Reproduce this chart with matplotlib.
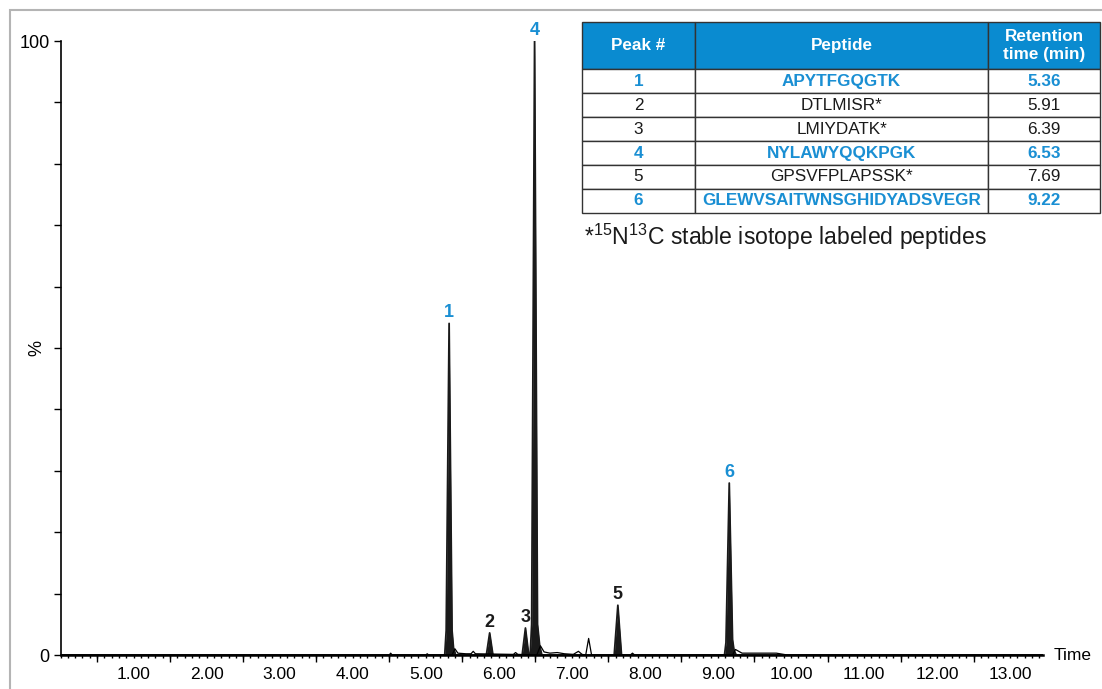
import matplotlib
matplotlib.use("Agg")
import numpy as np
import matplotlib.pyplot as plt
from matplotlib.patches import Rectangle
from matplotlib.ticker import FixedLocator, MultipleLocator

plt.rcParams["font.family"] = ["Liberation Sans", "DejaVu Sans"]
plt.rcParams["mathtext.fontset"] = "custom"
plt.rcParams["mathtext.rm"] = "Liberation Sans"

BLUE = "#0a8bd0"
TEXT_BLUE = "#1a8fd3"

# filled chromatogram trace (time in min, intensity in %)
fill_time = [0.0, 5.26, 5.28, 5.32, 5.36, 5.38, 5.41,
             5.83, 5.875, 5.92,
             6.32, 6.365, 6.41,
             6.43, 6.45, 6.49, 6.53, 6.56, 6.59,
             7.58, 7.63, 7.68,
             9.09, 9.11, 9.155, 9.20, 9.22, 9.25, 13.45]
fill_int = [0, 0, 4, 54, 4, 1.2, 0,
            0, 3.6, 0,
            0, 4.4, 0,
            0, 5, 100, 5, 1.5, 0,
            0, 8.1, 0,
            0, 2, 28, 2.5, 0.8, 0, 0]

# unfilled overlay trace
line_time = [0.0, 4.50, 4.52, 4.54, 5.00, 5.02, 5.04, 5.36, 5.40, 5.44, 5.55, 5.62, 5.65,
             5.68, 6.20, 6.23, 6.26, 6.52, 6.57, 6.62, 6.70, 6.80, 6.90, 7.02, 7.09, 7.14,
             7.19, 7.23, 7.27, 7.40, 7.80, 7.83, 7.86, 9.20, 9.24, 9.33, 9.60, 9.80, 9.95, 13.45]
line_int = [0, 0, 0.3, 0, 0, 0.2, 0, 0, 1.0, 0.3, 0.2, 0.2, 0.6,
            0.2, 0.1, 0.4, 0.1, 0, 1.5, 0.5, 0.3, 0.4, 0.2, 0.1, 0.6, 0.1,
            0, 2.7, 0, 0, 0, 0.3, 0, 0, 0.9, 0.3, 0.3, 0.3, 0, 0]

# peak labels
peak_num = ["1", "2", "3", "4", "5", "6"]
peak_rt = [5.32, 5.875, 6.365, 6.49, 7.63, 9.155]
peak_top = [54, 3.6, 4.4, 100, 8.1, 28]
peak_blue = [True, False, False, True, False, True]

# table
tbl_peak = ["1", "2", "3", "4", "5", "6"]
tbl_pep = ["APYTFGQGTK", "DTLMISR*", "LMIYDATK*", "NYLAWYQQKPGK",
           "GPSVFPLAPSSK*", "GLEWVSAITWNSGHIDYADSVEGR"]
tbl_rt = ["5.36", "5.91", "6.39", "6.53", "7.69", "9.22"]

fig = plt.figure(figsize=(11.02, 6.89), dpi=100)
fig.patches.append(Rectangle((10 / 1102, -0.05), 1.2, 1 - 10 / 689 + 0.05,
                             transform=fig.transFigure, fill=False,
                             edgecolor="#b4b4b4", linewidth=1.5))

ax = fig.add_axes([60.5 / 1102, 34 / 689, (1043 - 60.5) / 1102, 614 / 689])
ax.fill_between(fill_time, fill_int, 0, color="#1a1a1a", linewidth=0)
ax.plot(fill_time, fill_int, color="#1a1a1a", linewidth=1.3)
ax.plot(line_time, line_int, color="black", linewidth=0.9)

ax.set_xlim(0, 13.45)
ax.set_ylim(0, 100)
for s in ["top", "right"]:
    ax.spines[s].set_visible(False)
ax.spines["bottom"].set_linewidth(1.8)
ax.spines["left"].set_linewidth(1.2)

ax.xaxis.set_major_locator(FixedLocator(np.arange(1, 14)))
ax.set_xticklabels([f"{v:.2f}" for v in np.arange(1, 14)])
ax.xaxis.set_minor_locator(MultipleLocator(0.1))
ax.tick_params(axis="x", which="major", length=2.5, width=1, labelsize=12.5, pad=6)
ax.tick_params(axis="x", which="minor", length=2.5, width=1)
sec = ax.secondary_xaxis("bottom")
sec.set_xticks(np.arange(0.5, 13.5, 1.0))
sec.set_xticklabels([])
sec.tick_params(length=5, width=1)
sec.spines["bottom"].set_visible(False)

ax.set_yticks(np.arange(0, 101, 10))
ax.set_yticklabels(["0"] + [""] * 9 + ["100"])
ax.tick_params(axis="y", length=5, width=1, labelsize=13, pad=3)
ax.annotate("%", xy=(0, 50), xytext=(-17, 0), textcoords="offset points",
            rotation=90, ha="center", va="center", fontsize=13)
ax.text(1.011, 0, "Time", transform=ax.transAxes, ha="left", va="center", fontsize=12.5)

for n, rt, top, b in zip(peak_num, peak_rt, peak_top, peak_blue):
    ax.annotate(n, xy=(rt, top), xytext=(0, 1.5), textcoords="offset points",
                ha="center", va="bottom", fontsize=13, fontweight="bold",
                color=TEXT_BLUE if b else "#1a1a1a", annotation_clip=False)

# table
tax = fig.add_axes([582 / 1102, (689 - 212.7) / 689, 518 / 1102, 191 / 689])
tax.axis("off")
cells = [[p, q, r] for p, q, r in zip(tbl_peak, tbl_pep, tbl_rt)]
tb = tax.table(cellText=cells, colLabels=["Peak #", "Peptide", "Retention\ntime (min)"],
               colWidths=[113, 293, 112], cellLoc="center", bbox=[0, 0, 1, 1])
tb.auto_set_font_size(False)
for (r, c), cell in tb.get_celld().items():
    cell.set_edgecolor("#333333")
    cell.set_linewidth(1.0)
    cell.get_text().set_fontsize(12.3)
    if r == 0:
        cell.set_height(2 * cell.get_height())
        cell.set_facecolor(BLUE)
        cell.get_text().set_color("white")
        cell.get_text().set_fontweight("bold")
    elif peak_blue[r - 1]:
        cell.get_text().set_color(TEXT_BLUE)
        cell.get_text().set_fontweight("bold")
    else:
        cell.get_text().set_color("#1a1a1a")

fig.text(584 / 1102, 1 - 237 / 689, r"*$^{15}$N$^{13}$C stable isotope labeled peptides",
         ha="left", va="center", fontsize=16.6, color="#1a1a1a")

fig.savefig("out.png", dpi=100)
